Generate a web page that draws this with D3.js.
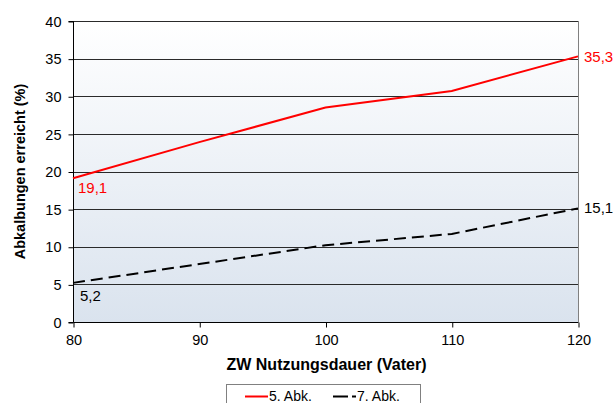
<!DOCTYPE html>
<html lang="de">
<meta charset="utf-8"/>
<head>
<style>
  body { margin: 0; background: #fff; }
  text { font-family: "Liberation Sans", Arial, sans-serif; }
</style>
</head>
<body>
<svg id="chart" width="616" height="403"></svg>
<script src="https://cdn.jsdelivr.net/npm/d3@7"></script>
<script>
// data
let dauer = [80, 90, 100, 110, 120]
let abk5 = [19.1, 23.9, 28.5, 30.7, 35.3]
let abk7 = [5.2, 7.7, 10.2, 11.7, 15.1]
let yTicks = [0, 5, 10, 15, 20, 25, 30, 35, 40]
let xTicks = [80, 90, 100, 110, 120]

let plotL = 73, plotR = 578, plotT = 21, plotB = 322
let svg = d3.select("#chart")

let x = d3.scaleLinear().domain([80, 120]).range([plotL, plotR])
let y = d3.scaleLinear().domain([0, 40]).range([plotB, plotT])

// background gradient
let grad = svg.append("defs").append("linearGradient")
    .attr("id", "bg").attr("x1", 0).attr("y1", 0).attr("x2", 0).attr("y2", 1)
grad.append("stop").attr("offset", "0%").attr("stop-color", "#ffffff")
grad.append("stop").attr("offset", "100%").attr("stop-color", "#dae3ee")

svg.append("rect")
    .attr("x", plotL).attr("y", plotT)
    .attr("width", plotR - plotL).attr("height", plotB - plotT)
    .attr("fill", "url(#bg)")

// gridlines
svg.append("g").selectAll("line")
    .data(yTicks.filter(d => d > 0))
    .enter().append("line")
    .attr("x1", plotL).attr("x2", plotR)
    .attr("y1", d => Math.round(y(d)) + 0.5).attr("y2", d => Math.round(y(d)) + 0.5)
    .attr("stroke", "#2a2a2a").attr("stroke-width", 1)

// right border
svg.append("line")
    .attr("x1", plotR + 0.5).attr("x2", plotR + 0.5)
    .attr("y1", plotT).attr("y2", plotB)
    .attr("stroke", "#808080")

// axes
let yAxis = svg.append("g")
    .attr("transform", `translate(${plotL + 0.5},0.5)`)
    .call(d3.axisLeft(y).tickValues(yTicks).tickSize(5).tickPadding(7).tickFormat(d3.format("d")))
let xAxis = svg.append("g")
    .attr("transform", `translate(0.5,${plotB + 0.5})`)
    .call(d3.axisBottom(x).tickValues(xTicks).tickSize(5).tickPadding(7).tickFormat(d3.format("d")))

svg.selectAll(".domain").attr("stroke", "#000")
svg.selectAll(".tick line").attr("stroke", "#000")
svg.selectAll(".tick text")
    .attr("font-family", "Liberation Sans, Arial, sans-serif")
    .attr("font-size", 14.5).attr("fill", "#000")
xAxis.select(".domain").attr("d", `M${plotL},0H${plotR}`)
yAxis.select(".domain").attr("d", `M-5,${plotT}H0V${plotB}H-5`)

// lines
let line = d3.line().x((d, i) => x(dauer[i])).y(d => y(d))

svg.append("path")
    .datum(abk7)
    .attr("d", line)
    .attr("fill", "none")
    .attr("stroke", "#000")
    .attr("stroke-width", 2)
    .attr("stroke-dasharray", "12,6")

svg.append("path")
    .datum(abk5)
    .attr("d", line)
    .attr("fill", "none")
    .attr("stroke", "#ff0000")
    .attr("stroke-width", 2)

// data labels
let fmt = v => String(v).replace(".", ",")
let labels = [
    { v: abk5[0], px: x(dauer[0]) + 5, py: y(abk5[0]) + 15, c: "#ff0000" },
    { v: abk5[4], px: x(dauer[4]) + 6, py: y(abk5[4]) + 6, c: "#ff0000" },
    { v: abk7[0], px: x(dauer[0]) + 7, py: y(abk7[0]) + 18, c: "#000" },
    { v: abk7[4], px: x(dauer[4]) + 6, py: y(abk7[4]) + 5, c: "#000" }
]
svg.append("g").selectAll("text")
    .data(labels)
    .enter().append("text")
    .attr("x", d => d.px).attr("y", d => d.py)
    .attr("fill", d => d.c)
    .attr("font-size", 15)
    .text(d => fmt(d.v))

// axis titles
svg.append("text")
    .attr("x", (plotL + plotR) / 2 + 1).attr("y", 370)
    .attr("text-anchor", "middle")
    .attr("font-size", 16).attr("font-weight", "bold")
    .text("ZW Nutzungsdauer (Vater)")

svg.append("text")
    .attr("transform", `translate(25,${(plotT + plotB) / 2}) rotate(-90)`)
    .attr("text-anchor", "middle")
    .attr("font-size", 14.5).attr("font-weight", "bold")
    .text("Abkalbungen erreicht (%)")

// legend
let leg = svg.append("g")
leg.append("rect")
    .attr("x", 226.5).attr("y", 384.5)
    .attr("width", 194).attr("height", 24)
    .attr("fill", "#fff").attr("stroke", "#808080")

let series = [
    { name: "5. Abk.", color: "#ff0000", dash: null, lx: 245 },
    { name: "7. Abk.", color: "#000", dash: "15,4", lx: 333 }
]
series.forEach(s => {
    leg.append("line")
        .attr("x1", s.lx).attr("x2", s.lx + 23)
        .attr("y1", 396.5).attr("y2", 396.5)
        .attr("stroke", s.color).attr("stroke-width", 2)
        .attr("stroke-dasharray", s.dash)
    leg.append("text")
        .attr("x", s.lx + 24).attr("y", 401)
        .attr("font-size", 14)
        .text(s.name)
})
</script>
</body>
</html>
